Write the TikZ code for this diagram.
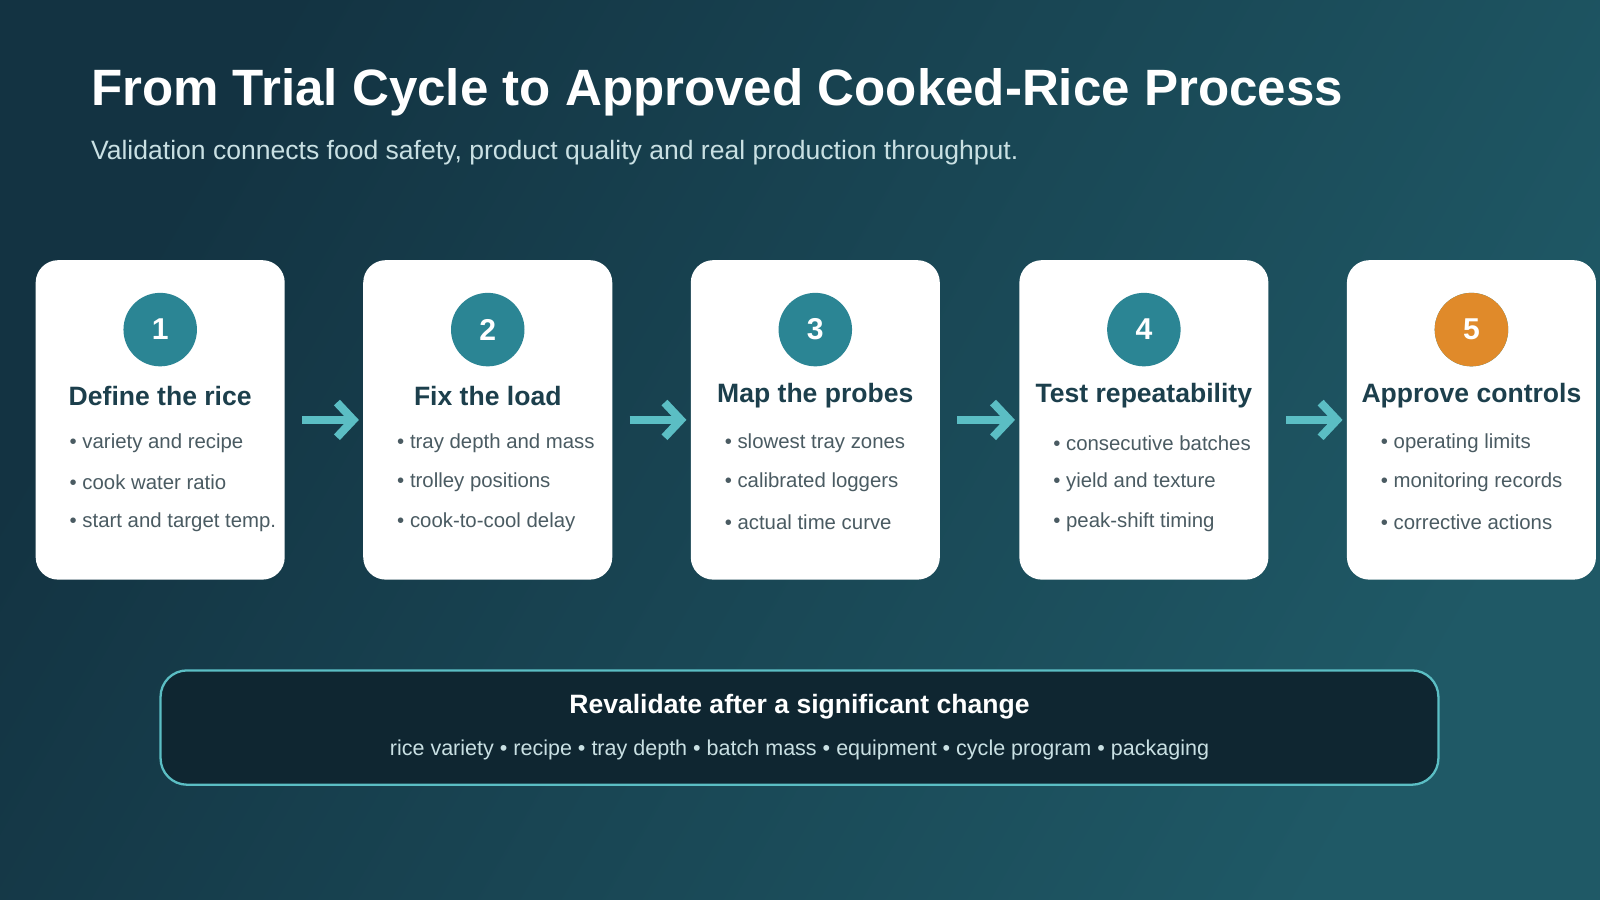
\documentclass[tikz,border=0pt]{standalone}
\usepackage{fontspec}
\setmainfont{Liberation Sans}
\usetikzlibrary{arrows.meta,positioning}
\definecolor{bgdark}{HTML}{133342}
\definecolor{bglight}{HTML}{1F5966}
\definecolor{teal}{HTML}{2B8594}
\definecolor{accent}{HTML}{E08A2A}
\definecolor{flowc}{HTML}{5BBEC4}
\definecolor{headc}{HTML}{1C3F4C}
\definecolor{bulc}{HTML}{4A5B62}
\definecolor{subc}{HTML}{C9E0E3}
\definecolor{boxc}{HTML}{0F2631}
\begin{document}
\begin{tikzpicture}[x=0.025cm,y=-0.025cm,
  card/.style={fill=white,rounded corners=0.55cm,minimum width=6.1cm,minimum height=7.825cm,inner sep=0pt},
  badge/.style={circle,fill=teal,minimum size=1.8cm,inner sep=0pt,text=white,font=\fontsize{21}{24}\selectfont\bfseries},
  head/.style={text=headc,font=\fontsize{18.5}{22}\selectfont\bfseries},
  item/.style={anchor=west,text=bulc,font=\fontsize{14.2}{17}\selectfont,inner sep=0pt},
  flow/.style={draw=flowc,line width=0.2cm,-{Straight Barb[length=0.4cm,width=0.85cm,line width=0.2cm]}}]
\shade[left color=bgdark,right color=bglight,shading angle=60] (0,0) rectangle (1568,882);
\useasboundingbox (0,0) rectangle (1568,882);

\node[anchor=base west,text=white,inner sep=0pt,font=\fontsize{35.6}{40}\selectfont\bfseries] (title) at (89,103) {From Trial Cycle to Approved Cooked-Rice Process};
\node[anchor=base west,text=subc,inner sep=0pt,font=\fontsize{18.5}{22}\selectfont] (sub) at (89,156) {Validation connects food safety, product quality and real production throughput.};

\foreach \i/\cx/\hd/\a/\b/\c in {
  1/157/Define the rice/variety and recipe/cook water ratio/start and target temp.,
  2/478/Fix the load/tray depth and mass/trolley positions/cook-to-cool delay,
  3/799/Map the probes/slowest tray zones/calibrated loggers/actual time curve,
  4/1121/Test repeatability/consecutive batches/yield and texture/peak-shift timing,
  5/1442/Approve controls/operating limits/monitoring records/corrective actions}{
  \node[card] (card\i) at (\cx,411.5) {};
  \node[badge] (num\i) at (\cx,323) {\i};
  \node[head] (hd\i) at (\cx,388) {\hd};
  \node[item] (a\i) at (\cx-89,434) {\textbullet\ \a};
  \node[item] (b\i) at (\cx-89,473) {\textbullet\ \b};
  \node[item] (c\i) at (\cx-89,512) {\textbullet\ \c};
}
\node[badge,fill=accent] at (num5) {5};

% arrows between cards
\foreach \i/\j in {1/2,2/3,3/4,4/5}
  \draw[flow] ([xshift=0.42cm]card\i.east) -- ([xshift=-0.1cm]card\j.west);

\node[draw=flowc,line width=1.6pt,fill=boxc,rounded corners=0.65cm,minimum width=31.3cm,minimum height=2.8cm] (reval) at (783.5,713) {};
\node[text=white,font=\fontsize{18.5}{22}\selectfont\bfseries] (rtitle) at (783.5,693) {Revalidate after a significant change};
\node[text=subc,font=\fontsize{15}{18}\selectfont] (rline) at (783.5,735) {rice variety \textbullet\ recipe \textbullet\ tray depth \textbullet\ batch mass \textbullet\ equipment \textbullet\ cycle program \textbullet\ packaging};
\end{tikzpicture}
\end{document}
